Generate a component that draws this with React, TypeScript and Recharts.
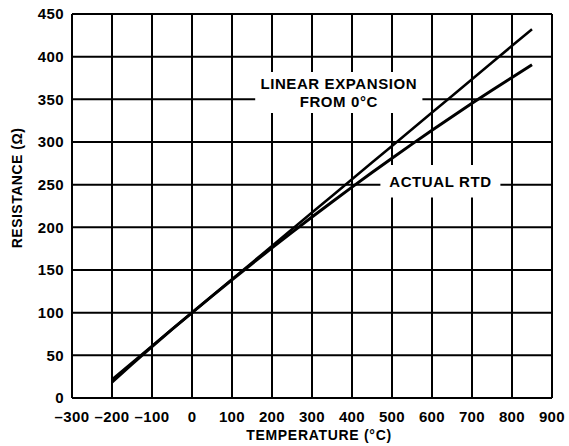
import React from "react";
import {
  LineChart,
  Line,
  XAxis,
  YAxis,
  CartesianGrid,
  ReferenceArea,
} from "recharts";

// temperature points (°C)
const temps = [
  -200, -150, -100, -50, 0, 50, 100, 150, 200, 250, 300, 350, 400, 450, 500,
  550, 600, 650, 700, 750, 800, 850,
];

// resistance of a real Pt100 RTD (Ω)
const actualRtd = [
  18.5, 39.7, 60.3, 80.3, 100, 119.4, 138.5, 157.3, 175.9, 194.1, 212.1, 229.7,
  247.1, 264.2, 281.0, 297.5, 313.7, 329.6, 345.3, 360.6, 375.7, 390.5,
];

// straight line extended from 0°C (Ω)
const linearExpansion = [
  21.8, 41.4, 60.9, 80.5, 100, 119.5, 139.1, 158.6, 178.2, 197.7, 217.3, 236.8,
  256.3, 275.9, 295.4, 315.0, 334.5, 354.0, 373.6, 393.1, 412.7, 432.2,
];

const xTicks = [-300, -200, -100, 0, 100, 200, 300, 400, 500, 600, 700, 800, 900];
const yTicks = [0, 50, 100, 150, 200, 250, 300, 350, 400, 450];

const data = temps.map((t, i) => ({
  t,
  actual: actualRtd[i],
  linear: linearExpansion[i],
}));

const FONT = "'Liberation Sans', Arial, Helvetica, sans-serif";
const tickStyle = {
  fill: "#000",
  fontSize: 15,
  fontWeight: 700,
  fontFamily: FONT,
  letterSpacing: 0.4,
};

const fmt = (v: number) => (v < 0 ? `\u2013${Math.abs(v)}` : `${v}`);

function BoxLabel({ viewBox, lines }: any) {
  if (!viewBox) return null;
  const cx = viewBox.x + viewBox.width / 2;
  const cy = viewBox.y + viewBox.height / 2;
  const lh = 18;
  const start = cy - ((lines.length - 1) * lh) / 2;
  return (
    <text
      textAnchor="middle"
      fontFamily={FONT}
      fontSize={15}
      fontWeight={700}
      letterSpacing={0.6}
      fill="#000"
    >
      {lines.map((l: string, i: number) => (
        <tspan key={i} x={cx} y={start + i * lh} dy="0.36em">
          {l}
        </tspan>
      ))}
    </text>
  );
}

function YLabel({ viewBox }: any) {
  if (!viewBox) return null;
  return (
    <text
      transform={`translate(17, 188) rotate(-90)`}
      textAnchor="middle"
      dy="0.36em"
      fontFamily={FONT}
      fontSize={14}
      fontWeight={700}
      letterSpacing={0.5}
      fill="#000"
    >
      RESISTANCE (Ω)
    </text>
  );
}

function XLabel({ viewBox }: any) {
  if (!viewBox) return null;
  return (
    <text
      x={319}
      y={435}
      textAnchor="middle"
      dy="0.36em"
      fontFamily={FONT}
      fontSize={14}
      fontWeight={700}
      letterSpacing={0.7}
      fill="#000"
    >
      TEMPERATURE (°C)
    </text>
  );
}

export default function App() {
  return (
    <div style={{ position: "absolute", left: 0, top: 0, background: "#fff" }}>
      <LineChart
        width={569}
        height={446}
        data={data}
        margin={{ top: 14, right: 17, bottom: 0, left: 0 }}
      >
        <CartesianGrid stroke="#000" strokeWidth={2} />
        <XAxis
          type="number"
          dataKey="t"
          domain={[-300, 900]}
          ticks={xTicks}
          tickFormatter={fmt}
          tick={tickStyle}
          axisLine={{ stroke: "#000", strokeWidth: 2 }}
          tickLine={false}
          tickMargin={7}
          height={48}
          interval={0}
          label={<XLabel />}
        />
        <YAxis
          type="number"
          domain={[0, 450]}
          ticks={yTicks}
          tick={tickStyle}
          axisLine={{ stroke: "#000", strokeWidth: 2 }}
          tickLine={false}
          width={72}
          interval={0}
          label={<YLabel />}
        />
        <ReferenceArea
          x1={158}
          x2={576}
          y1={334}
          y2={382}
          fill="#fff"
          fillOpacity={1}
          stroke="none"
          label={<BoxLabel lines={["LINEAR EXPANSION", "FROM 0°C"]} />}
        />
        <ReferenceArea
          x1={471}
          x2={771}
          y1={235}
          y2={273}
          fill="#fff"
          fillOpacity={1}
          stroke="none"
          label={<BoxLabel lines={["ACTUAL RTD"]} />}
        />
        <Line
          type="linear"
          dataKey="linear"
          stroke="#000"
          strokeWidth={2.5}
          dot={false}
          isAnimationActive={false}
        />
        <Line
          type="linear"
          dataKey="actual"
          stroke="#000"
          strokeWidth={3}
          dot={false}
          isAnimationActive={false}
        />
      </LineChart>
    </div>
  );
}
